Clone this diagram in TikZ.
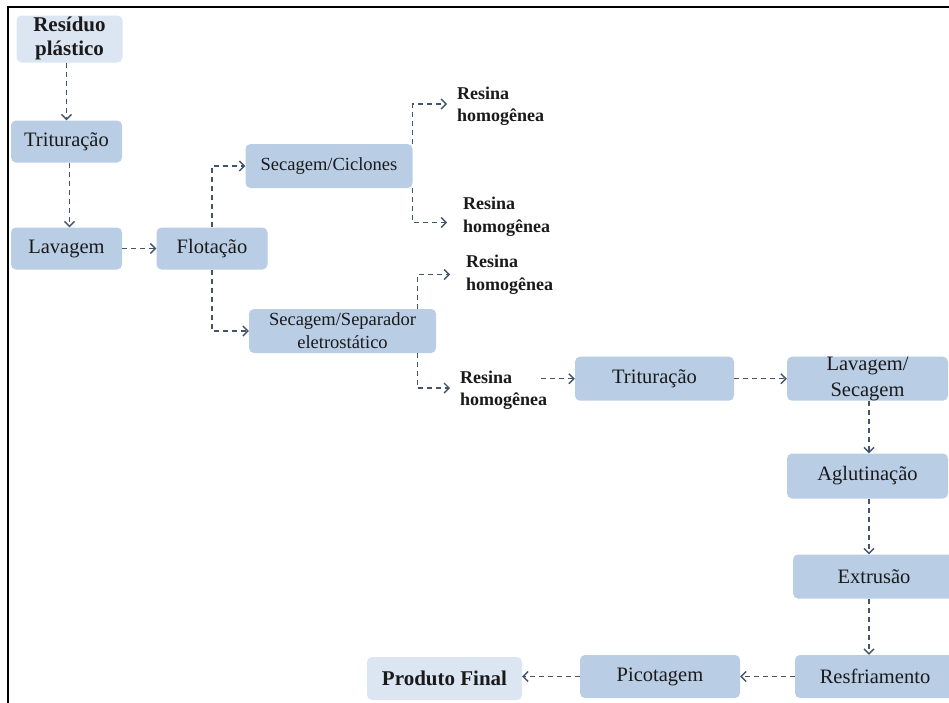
\documentclass[tikz,border=0pt]{standalone}
\usepackage{fontspec}
\setmainfont{LiberationSerif}[Extension=.ttf, UprightFont=*-Regular, BoldFont=*-Bold,
  ItalicFont=*-Italic, BoldItalicFont=*-BoldItalic]
\usetikzlibrary{arrows.meta}
\definecolor{boxblue}{HTML}{B9CDE5}
\definecolor{boxpale}{HTML}{DCE6F2}
\definecolor{flow}{HTML}{44546A}
\definecolor{ink}{HTML}{1A1A1A}

\begin{document}
\begin{tikzpicture}[x=1pt,y=-1pt,
  stepbox/.style={draw=none, fill=boxblue, rounded corners=5pt, inner sep=0pt,
    align=center, text=ink, font=\fontsize{20.5}{25}\selectfont},
  palebox/.style={stepbox, fill=boxpale, font=\fontsize{21}{23.5}\selectfont\bfseries},
  smallbox/.style={stepbox, font=\fontsize{18.5}{23}\selectfont},
  resin/.style={inner sep=0pt, align=left, anchor=west, text=ink,
    font=\fontsize{18}{22.5}\selectfont\bfseries},
  flowline/.style={draw=flow, line width=1.4pt, dash pattern=on 5pt off 4pt,
    -{Straight Barb[length=5pt,width=10pt]}},
]
\useasboundingbox (0,0) rectangle (949,702);
\fill[white] (0,0) rectangle (949,702);
% outer frame (left and top edges)
\draw[line width=2pt] (8,720) -- (8,7) -- (960,7);

% process steps
\node[palebox, minimum width=106pt, minimum height=44pt] (res) at (69.5,39) {\raisebox{-2pt}{\begin{tabular}{@{}c@{}}Resíduo\\plástico\end{tabular}}};
\node[stepbox, minimum width=111pt, minimum height=42pt] (tri1) at (66.5,141.5) {Trituração};
\node[stepbox, minimum width=111pt, minimum height=42pt] (lav) at (66.5,248.5) {Lavagem};
\node[stepbox, minimum width=111pt, minimum height=42pt] (flo) at (212,248.5) {Flotação};
\node[smallbox, minimum width=167pt, minimum height=44pt] (cic) at (329,166) {Secagem/Ciclones};
\node[smallbox, minimum width=187pt, minimum height=44pt] (sep) at (342.5,331) {Secagem/Separador\\eletrostático};

% resin outputs
\node[resin] (r1) at (457,106) {Resina\\homogênea};
\node[resin] (r2) at (463,216.5) {Resina\\homogênea};
\node[resin] (r3) at (466,274.5) {Resina\\homogênea};
\node[resin] (r4) at (460,390) {Resina\\homogênea};

% recycling line
\node[stepbox, minimum width=159pt, minimum height=44pt] (tri2) at (654.5,378.7) {Trituração};
\node[stepbox, minimum width=161pt, minimum height=44pt] (ls) at (867.5,378.7) {};
\node[text=ink, align=center, inner sep=0pt, font=\fontsize{20.5}{26}\selectfont] (lstext) at (ls) {Lavagem/\\Secagem};
\node[stepbox, minimum width=161pt, minimum height=45pt] (agl) at (867.5,476) {Aglutinação};
\node[stepbox, minimum width=162pt, minimum height=44pt] (ext) at (874,576.5) {Extrusão};
\node[stepbox, minimum width=160pt, minimum height=43pt] (resf) at (875,676.5) {Resfriamento};
\node[stepbox, minimum width=160pt, minimum height=43pt] (pic) at (660,676.5) {Picotagem};
\node[palebox, minimum width=155pt, minimum height=43pt] (pf) at (444.5,678.5) {Produto Final};

\coordinate (vx) at (869,0);

% connectors
\draw[flowline] (tri1.north |- res.south) -- (tri1.north);
\draw[flowline] ([xshift=3pt]tri1.south) -- ([xshift=3pt]lav.north);
\draw[flowline] (lav) -- (flo);
\draw[flowline] (flo.north) |- (cic.west);
\draw[flowline] (flo.south) |- (sep.west);
\draw[flowline, shorten >=10pt] (cic.north east) |- ([yshift=2pt]r1.west);
\draw[flowline, shorten >=16pt] (cic.south east) |- ([yshift=-6pt]r2.west);
\draw[flowline, shorten >=16pt] ([xshift=-19pt]sep.north east) |- (r3.west);
\draw[flowline, shorten >=10pt] ([xshift=-19pt]sep.south east) |- ([yshift=2pt]r4.west);
\draw[flowline, shorten <=-6pt] (r4.east |- tri2.west) -- (tri2.west);
\draw[flowline] (tri2) -- (ls);
\draw[flowline] (vx |- ls.south) -- (vx |- agl.north);
\draw[flowline] (vx |- agl.south) -- (vx |- ext.north);
\draw[flowline] (vx |- ext.south) -- (vx |- resf.north);
\draw[flowline] (resf) -- (pic);
\draw[flowline] (pic.west) -- (pic.west -| pf.east);
\end{tikzpicture}
\end{document}
